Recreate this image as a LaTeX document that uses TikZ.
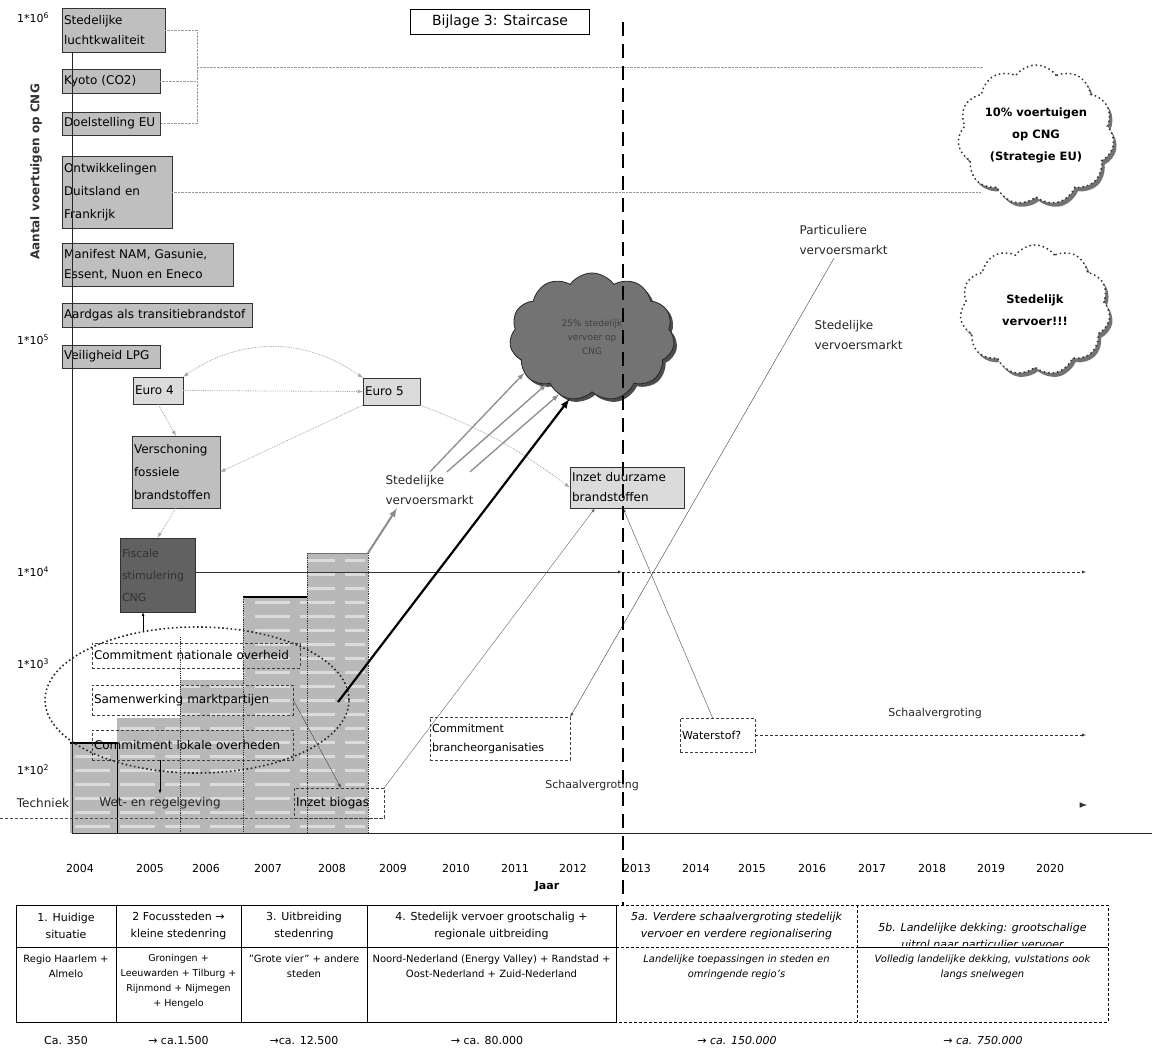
\documentclass[tikz,border=0pt]{standalone}
\usepackage{fontspec}
\setmainfont{DejaVu Sans}
\usetikzlibrary{positioning,arrows,shapes.symbols,shapes.geometric,shadows}
\newcommand{\fs}[2]{\fontsize{#1}{#2}\selectfont}

\begin{document}
\begin{tikzpicture}[x=1pt,y=-1pt]
\tikzstyle{gbox}=[rectangle, draw=black!80, fill=black!25, inner sep=2pt, align=left, font=\fs{12}{20}]
\tikzstyle{lbox}=[gbox, fill=black!14]
\tikzstyle{dbox}=[rectangle, draw=black!75, dash pattern=on 3pt off 2pt, inner sep=2pt, align=left, font=\fs{12}{20}]
\tikzstyle{lbl}=[align=left, font=\fs{12}{20}, text=black!85]
\tikzstyle{yr}=[font=\fs{11}{13}]
\tikzstyle{kop}=[align=center, font=\fs{11}{17}]
\tikzstyle{inhoud}=[align=center, font=\fs{10}{15}, anchor=north]
\tikzstyle{garrow}=[-latex, draw=black!35, densely dotted, thick]
\tikzstyle{warrow}=[-latex, draw=black!45, line width=1.3pt]
\tikzstyle{hulplijn}=[draw=black!40, densely dotted]
\tikzstyle{staaf}=[fill=black!28]
\tikzstyle{wolk}=[cloud, cloud puffs=11, cloud puff arc=110, aspect=1.2, align=center, inner sep=0pt, font=\bfseries\fs{11.5}{22}]

\useasboundingbox (0,0) rectangle (1154,1057);

% staircase
\begin{scope}
\clip (70,743) -| (117,718) -| (180,680) -| (243,597) -| (307,553) -| (368,833) -- (70,833) -- cycle;
\fill[staaf] (60,540) rectangle (380,840);
\foreach \y in {560,574,...,830}
  \draw[white, line width=3pt, opacity=.5, dash pattern=on 35pt off 10pt] (75,\y) -- (365,\y);
\end{scope}
\draw[line width=2pt] (70,743) -- (117,743);
\draw (117,743) -- (117,833);
\draw[line width=2pt] (243,597) -- (307,597);
\draw[black!55, thick] (307,553) -- (368,553);
\foreach \x/\t in {180/637,243/597,307/553,368/553}
  \draw[densely dotted, thick, black!80] (\x,\t) -- (\x,833);
\draw[dash pattern=on 3pt off 2pt, black!70] (0,818) -- (385,818);

% boxes links
\coordinate (br) at (197,67);
\node[gbox, text width=99pt, minimum height=44pt] (stl) at (113.5,30) {Stedelijke\\luchtkwaliteit};
\node[gbox, text width=94pt, minimum height=24pt] (kyo) at (111,81) {Kyoto (CO2)};
\node[gbox, text width=94pt, minimum height=23pt] (doe) at (111,123.5) {Doelstelling EU};
\node[gbox, text width=106pt, minimum height=72pt, font=\fs{12}{23}] (ont) at (117,192) {Ontwikkelingen\\Duitsland en\\Frankrijk};
\node[gbox, text width=167pt, minimum height=43pt] (man) at (147.5,264.5) {Manifest NAM, Gasunie,\\Essent, Nuon en Eneco};
\node[gbox, text width=186pt, minimum height=24pt] (aar) at (157,315) {Aardgas als transitiebrandstof};
\node[gbox, text width=94pt, minimum height=23pt] (vei) at (111,356.5) {Veiligheid LPG};

\draw[hulplijn] (stl.east) -| (doe.east -| br) -- (doe.east);
\draw[hulplijn] (kyo.east) -- (kyo.east -| br);

% wolken
\node[wolk, draw=black!80, dash pattern=on 1.5pt off 3pt, line width=1.5pt, fill=white, minimum width=150pt, minimum height=140pt, drop shadow={shadow xshift=3pt, shadow yshift=-4pt, fill=black!55, opacity=1}] (c10) at (1036,135) {10\% voertuigen\\op CNG\\(Strategie EU)};
\node[wolk, draw=black!80, dash pattern=on 1.5pt off 3pt, line width=1.5pt, fill=white, minimum width=150pt, minimum height=130pt, drop shadow={shadow xshift=3pt, shadow yshift=-4pt, fill=black!55, opacity=1}] (cst) at (1035,310) {Stedelijk\\vervoer!!!};
\draw[hulplijn] (br) -- (br -| c10.north west);
\draw[hulplijn] (ont.east) -- (ont.east -| c10.south west);
\node[wolk, draw=black!85, thick, fill=black!55, text=black!75, font=\fs{9}{14}, minimum width=165pt, minimum height=128pt, drop shadow={shadow xshift=3pt, shadow yshift=-3pt, fill=black!70, opacity=1}] (c25) at (592,337) {25\% stedelijk\\vervoer op\\CNG};

% boxes midden
\node[lbox, text width=46pt, minimum height=27pt] (eu4) at (158,390.5) {Euro 4};
\node[lbox, text width=53pt, minimum height=27pt] (eu5) at (391.5,391.5) {Euro 5};
\node[lbox, fill=black!25, text width=84pt, minimum height=72pt, font=\fs{12}{23}] (ver) at (176,472) {Verschoning\\fossiele\\brandstoffen};
\node[gbox, fill=black!62, text=black!80, text width=71pt, minimum height=74pt, font=\fs{11}{22}] (fis) at (157.5,575) {Fiscale\\stimulering\\CNG};
\node[lbox, text width=110pt, minimum height=41pt] (inz) at (627,487.5) {Inzet duurzame\\brandstoffen};

\node[ellipse, draw=black!85, line width=1.6pt, dash pattern=on 1.6pt off 2.6pt, minimum width=304pt, minimum height=146pt] (ell) at (197,700) {};
\node[dbox, text width=204pt, minimum height=25pt] (cno) at (196,655.5) {Commitment nationale overheid};
\node[dbox, text width=197pt, minimum height=30pt] (sam) at (192.5,700) {Samenwerking marktpartijen};
\node[dbox, text width=197pt, minimum height=30pt] (clo) at (192.5,745) {Commitment lokale overheden};
\node[lbl] (tec) at (43,803) {Techniek};
\node[lbl] (wet) at (160,803) {Wet- en regelgeving};
\node[dbox, text width=86pt, minimum height=30pt] (big) at (339,803) {Inzet biogas};
\node[dbox, text width=136pt, minimum height=43pt, font=\fs{11}{19}] (cbo) at (500,738.5) {Commitment\\brancheorganisaties};
\node[dbox, text width=71pt, minimum height=34pt, font=\fs{11}{13}, anchor=north west] (wat) at (680,718) {Waterstof?};

% labels
\node[lbl, anchor=west] (svm1) at (382,490) {Stedelijke\\vervoersmarkt};
\node[lbl, anchor=west] (par) at (796,240) {Particuliere\\vervoersmarkt};
\node[lbl, anchor=west] (svm2) at (811,335) {Stedelijke\\vervoersmarkt};
\node[font=\fs{11}{13}, text=black!85] (sch1) at (592,785) {Schaalvergroting};
\node[font=\fs{11}{13}, text=black!85] (sch2) at (935,713) {Schaalvergroting};
\node[draw, font=\fs{14}{16}, minimum width=179pt, minimum height=25pt] (ttl) at (500,22) {Bijlage 3: Staircase};

% assen
\draw[black!85] (72,52) -- (72,833) -- (1152,833);
\node[rotate=90, font=\bfseries\fs{12}{14}, text=black!80] (ytit) at (36,172) {Aantal voertuigen op CNG};
\foreach \y/\e in {18/6,340/5,572/4,664/3,770/2}
  \node[yr] (e\e) at (33,\y) {1*10\textsuperscript{\e}};
\foreach \x/\j in {80/2004,150/2005,206/2006,268/2007,332/2008,393/2009,456/2010,515/2011,573/2012,637/2013,696/2014,752/2015,812/2016,872/2017,932/2018,991/2019,1050/2020}
  \node[yr] (y\j) at (\x,868) {\j};
\node[font=\bfseries\fs{11}{13}] (jaar) at (547,887) {Jaar};

% pijlen
\coordinate (d1) at (622,572);
\coordinate (e1) at (1086,572);
\coordinate (e2) at (1086,735);
\coordinate (e3a) at (1080,805);
\coordinate (e3) at (1087,805);
\coordinate (b8) at (338,702);
\coordinate (b8t) at (368,553);
\draw[-latex, black!80] (fis.east |- d1) -- (d1);
\draw[-latex, black!80, dash pattern=on 3pt off 2pt] (d1) -- (e1);
\draw[-latex, black!80, dash pattern=on 3pt off 2pt] (wat.east |- e2) -- (e2);
\draw[-latex, black!80, line width=1.5pt] (e3a) -- (e3);

\draw[garrow, latex-latex] (eu4.north east) to[bend left=35] (eu5.north west);
\draw[garrow] (eu4.east) -- (eu5.west);
\draw[garrow] (eu5.south west) -- (ver.east);
\draw[garrow] (eu4.south) -- (ver.north);
\draw[garrow] (ver.south) -- (fis.north);
\draw[garrow] (eu5.south east) to[bend left=8] (inz.west);

\draw[warrow] ([xshift=48pt]svm1.north west) -- (c25.208);
\draw[warrow] ([xshift=65pt]svm1.north west) -- (c25.226);
\draw[warrow] ([xshift=88pt]svm1.north west) -- (c25.240);
\draw[-latex, black!45, line width=2pt] (b8t) -- ([xshift=15pt]svm1.south west);
\draw[-latex, line width=2.2pt] (b8) -- (c25.250);

\draw[-latex, black!60] (big.north east) -- ([xshift=-32pt]inz.south);
\draw[-latex, black!70] ([xshift=-5pt]wat.north) -- ([xshift=-4pt]inz.south);
\draw[-latex, black!75] ([xshift=38pt]par.south west) -- (cbo.north east);
\draw[-latex, black!75] (sam.east) -- ([xshift=2pt]big.north);
\draw[-latex] (clo.south -| wet.north) -- (wet.north);
\draw[-latex] (ell.128) -- (ell.128 |- fis.south);

% jaar 2013
\draw[line width=2.5pt, dash pattern=on 14pt off 8pt] (623,22) -- (623,905);

% tabel
\draw (16,905) rectangle (616,1022);
\draw (16,947) -- (616,947);
\foreach \x in {116,241,367} \draw (\x,905) -- (\x,1022);
\draw[dash pattern=on 3pt off 2pt] (616,905) -- (1108,905) -- (1108,1022) -- (616,1022) -- cycle;
\draw[dash pattern=on 3pt off 2pt] (616,947) -- (857,947);
\draw[dash pattern=on 3pt off 2pt] (857,905) -- (857,1022);
\draw (857,947) -- (1108,947);

\node[kop] (h1) at (66,926) {1. Huidige\\situatie};
\node[kop] (h2) at (178.5,926) {2 Focussteden →\\kleine stedenring};
\node[kop] (h3) at (304,926) {3. Uitbreiding\\stedenring};
\node[kop] (h4) at (491.5,926) {4. Stedelijk vervoer grootschalig +\\regionale uitbreiding};
\node[kop, font=\itshape\fs{11}{17}] (h5a) at (736.5,926) {5a. Verdere schaalvergroting stedelijk\\vervoer en verdere regionalisering};
\begin{scope}
\clip (857,905) rectangle (1108,945);
\node[kop, font=\itshape\fs{11}{17}] (h5b) at (982.5,937) {5b. Landelijke dekking: grootschalige\\uitrol naar particulier vervoer};
\end{scope}

\node[inhoud] (r1) at (66,951) {Regio Haarlem +\\Almelo};
\node[inhoud, font=\fs{9.5}{15}] (r2) at (178.5,951) {Groningen +\\Leeuwarden + Tilburg +\\Rijnmond + Nijmegen\\+ Hengelo};
\node[inhoud] (r3) at (304,951) {"Grote vier" + andere\\steden};
\node[inhoud] (r4) at (491.5,951) {Noord-Nederland (Energy Valley) + Randstad +\\Oost-Nederland + Zuid-Nederland};
\node[inhoud, font=\itshape\fs{10}{15}] (r5a) at (736.5,951) {Landelijke toepassingen in steden en\\omringende regio's};
\node[inhoud, font=\itshape\fs{10}{15}] (r5b) at (982.5,951) {Volledig landelijke dekking, vulstations ook\\langs snelwegen};

\node[yr] (n1) at (66,1040) {Ca. 350};
\node[yr] (n2) at (178.5,1040) {→ ca.1.500};
\node[yr] (n3) at (304,1040) {→ca. 12.500};
\node[yr] (n4) at (487,1040) {→ ca. 80.000};
\node[yr, font=\itshape\fs{11}{13}] (n5a) at (737,1040) {→ ca. 150.000};
\node[yr, font=\itshape\fs{11}{13}] (n5b) at (983,1040) {→ ca. 750.000};
\end{tikzpicture}
\end{document}
